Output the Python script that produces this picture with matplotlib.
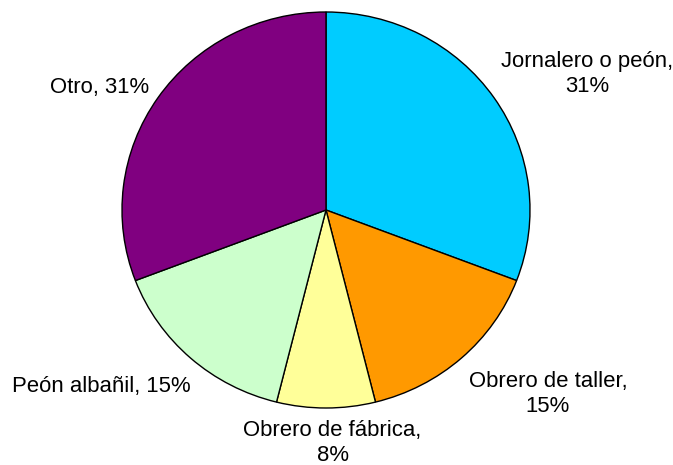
import matplotlib
matplotlib.use("Agg")
import matplotlib.pyplot as plt

# Data
categories = ["Jornalero o peón", "Obrero de taller", "Obrero de fábrica", "Peón albañil", "Otro"]
values = [30.8, 15.3, 7.8, 15.3, 30.8]
label_texts = ["Jornalero o peón,\n31%", "Obrero de taller,\n15%", "Obrero de fábrica,\n8%",
               "Peón albañil, 15%", "Otro, 31%"]

# Style
colors = ["#00CCFF", "#FF9900", "#FFFF99", "#CCFFCC", "#800080"]
label_pos = [(1.279, 0.687), (1.088, -0.929), (0.032, -1.179), (-1.103, -0.89), (-1.108, 0.621)]

plt.rcParams['font.family'] = ['Liberation Sans', 'DejaVu Sans']

W, H = 673, 465
fig = plt.figure(figsize=(W / 100, H / 100), dpi=100)
ax = fig.add_axes([0, 0, 1, 1])

RX, RY = 204.0, 198.0
cx, cy = 326.0, H - 210.0

wedges, texts = ax.pie(values, colors=colors, startangle=90, counterclock=False,
                       labels=label_texts, radius=1.0,
                       wedgeprops=dict(edgecolor="black", linewidth=1.0),
                       textprops=dict(fontsize=15.9, color="black"))
for t, (x, y) in zip(texts, label_pos):
    t.set_position((x, y))
    t.set_ha("center")
    t.set_va("center")
    t.set_multialignment("center")
    t.set_linespacing(1.25)

ax.set_aspect("auto")
ax.set_xlim((0 - cx) / RX, (W - cx) / RX)
ax.set_ylim((0 - cy) / RY, (H - cy) / RY)
ax.axis("off")

fig.savefig("out.png", dpi=100, facecolor="white")
